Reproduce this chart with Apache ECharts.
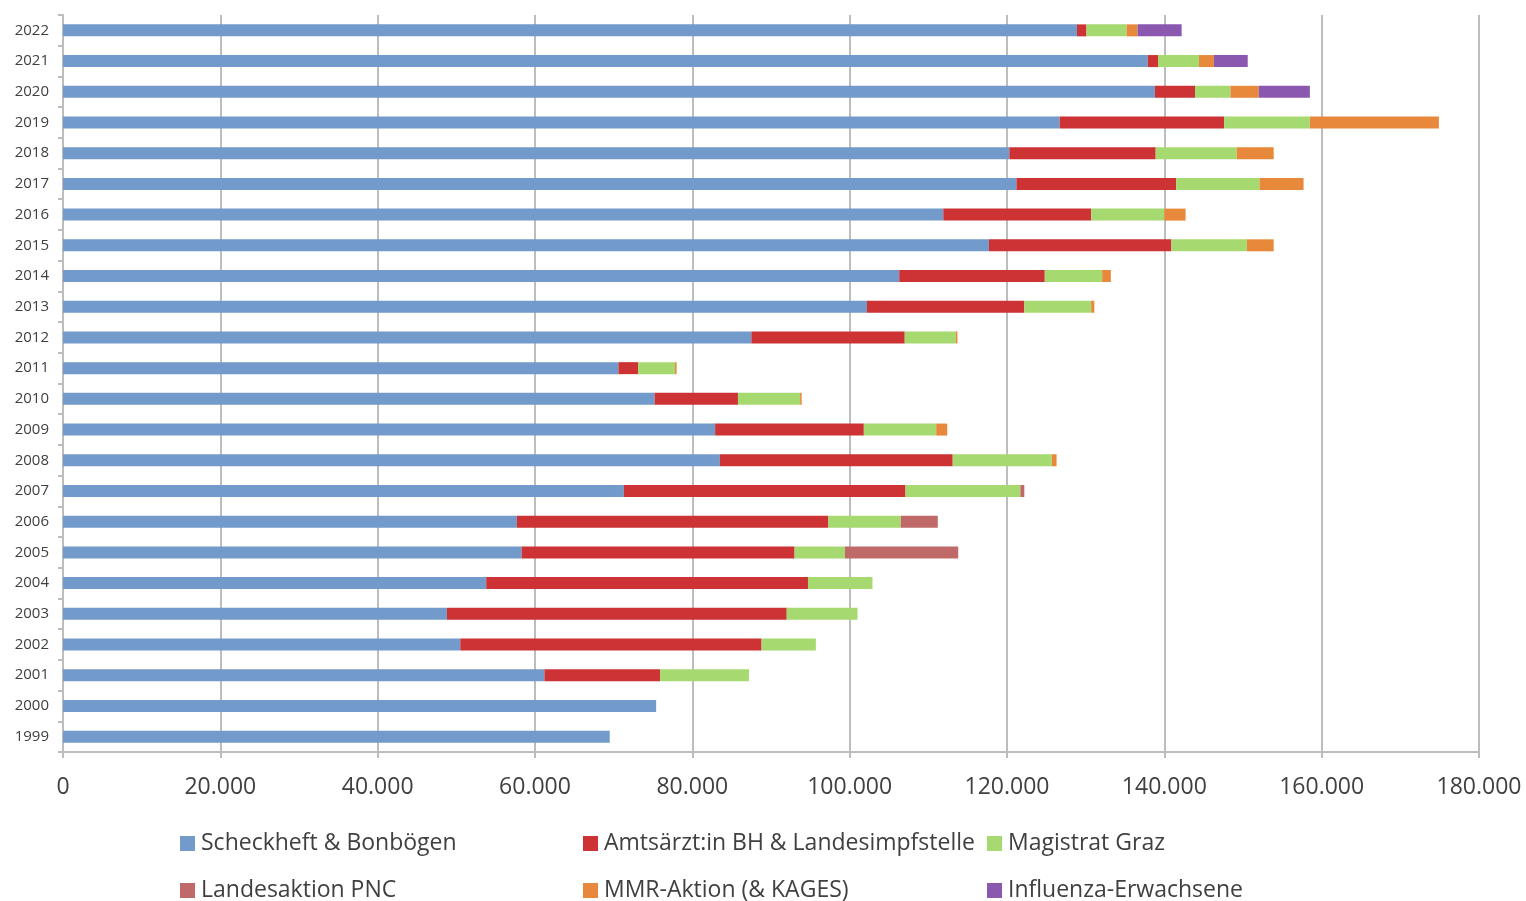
<!DOCTYPE html>
<html>
<head>
<meta charset="utf-8">
<script src="https://cdn.jsdelivr.net/npm/echarts@6/dist/echarts.min.js"></script>
<style>
html,body{margin:0;padding:0;background:#fff;}
#chart{width:1526px;height:901px;}
</style>
</head>
<body>
<div id="chart"></div>
<script>
const years = ['1999','2000','2001','2002','2003','2004','2005','2006','2007','2008','2009','2010','2011','2012','2013','2014','2015','2016','2017','2018','2019','2020','2021','2022'];
const seriesNames = ['Scheckheft & Bonbögen','Amtsärzt:in BH & Landesimpfstelle','Magistrat Graz','Landesaktion PNC','MMR-Aktion (& KAGES)','Influenza-Erwachsene'];
const scheckheft = [69500,75400,61200,50500,48800,53800,58300,57700,71300,83500,82900,75200,70600,87500,102200,106300,117700,111900,121200,120300,126700,138800,137900,128900];
const amtsarzt   = [0,0,14700,38300,43200,40900,34700,39600,35800,29600,18900,10600,2500,19500,20000,18500,23200,18800,20300,18600,20900,5100,1300,1200];
const magistrat  = [0,0,11300,6900,9000,8200,6400,9200,14600,12600,9200,7900,4700,6500,8500,7300,9600,9300,10600,10300,10900,4500,5200,5100];
const pnc        = [0,0,0,0,0,0,14400,4700,500,0,0,0,0,0,0,0,0,0,0,0,0,0,0,0];
const mmr        = [0,0,0,0,0,0,0,0,0,600,1400,200,200,200,400,1100,3400,2700,5600,4700,16400,3600,1900,1400];
const influenza  = [0,0,0,0,0,0,0,0,0,0,0,0,0,0,0,0,0,0,0,0,0,6500,4300,5600];
const xTicks = [0,20000,40000,60000,80000,100000,120000,140000,160000,180000];
const colors = ['#729ACA','#CD3334','#A7D971','#BF6A69','#E8883A','#8B58B0'];

const allData = [scheckheft, amtsarzt, magistrat, pnc, mmr, influenza];
const fmt = v => String(v).replace(/\B(?=(\d{3})+(?!\d))/g, '.');

const legendPos = [
  {left:180, top:832}, {left:583, top:832}, {left:987, top:832},
  {left:180, top:879}, {left:583, top:879}, {left:987, top:879}
];

const chart = echarts.init(document.getElementById('chart'));
chart.setOption({
  animation:false,
  color: colors,
  textStyle:{fontFamily:'Open Sans'},
  grid:{left:63, right:47, top:15, bottom:149, containLabel:false},
  legend: seriesNames.map((n,i)=>({
    data:[n], left:legendPos[i].left, top:legendPos[i].top, padding:0,
    icon:'rect', itemWidth:15, itemHeight:15, itemGap:0,
    textStyle:{fontSize:23, color:'#404040', fontFamily:'Open Sans', padding:[0,0,0,1]},
    selectedMode:false
  })),
  xAxis:{
    type:'value', min:xTicks[0], max:xTicks[xTicks.length-1], interval:xTicks[1]-xTicks[0],
    axisLine:{show:true, lineStyle:{color:'#bdbdbd', width:2}},
    axisTick:{show:true, length:6, lineStyle:{color:'#bdbdbd', width:2}},
    splitLine:{show:true, lineStyle:{color:'#bdbdbd', width:2}},
    axisLabel:{fontSize:23, color:'#404040', margin:24, formatter:v=>fmt(v)}
  },
  yAxis:{
    type:'category', data:years,
    axisLine:{show:true, lineStyle:{color:'#bdbdbd', width:2}},
    axisTick:{show:true, length:5, lineStyle:{color:'#bdbdbd', width:2}},
    axisLabel:{fontSize:15, color:'#404040', margin:14}
  },
  series: seriesNames.map((n,i)=>({
    name:n, type:'bar', stack:'total', barWidth:12,
    data: allData[i],
    itemStyle:{color:colors[i]}
  }))
});
</script>
</body>
</html>
